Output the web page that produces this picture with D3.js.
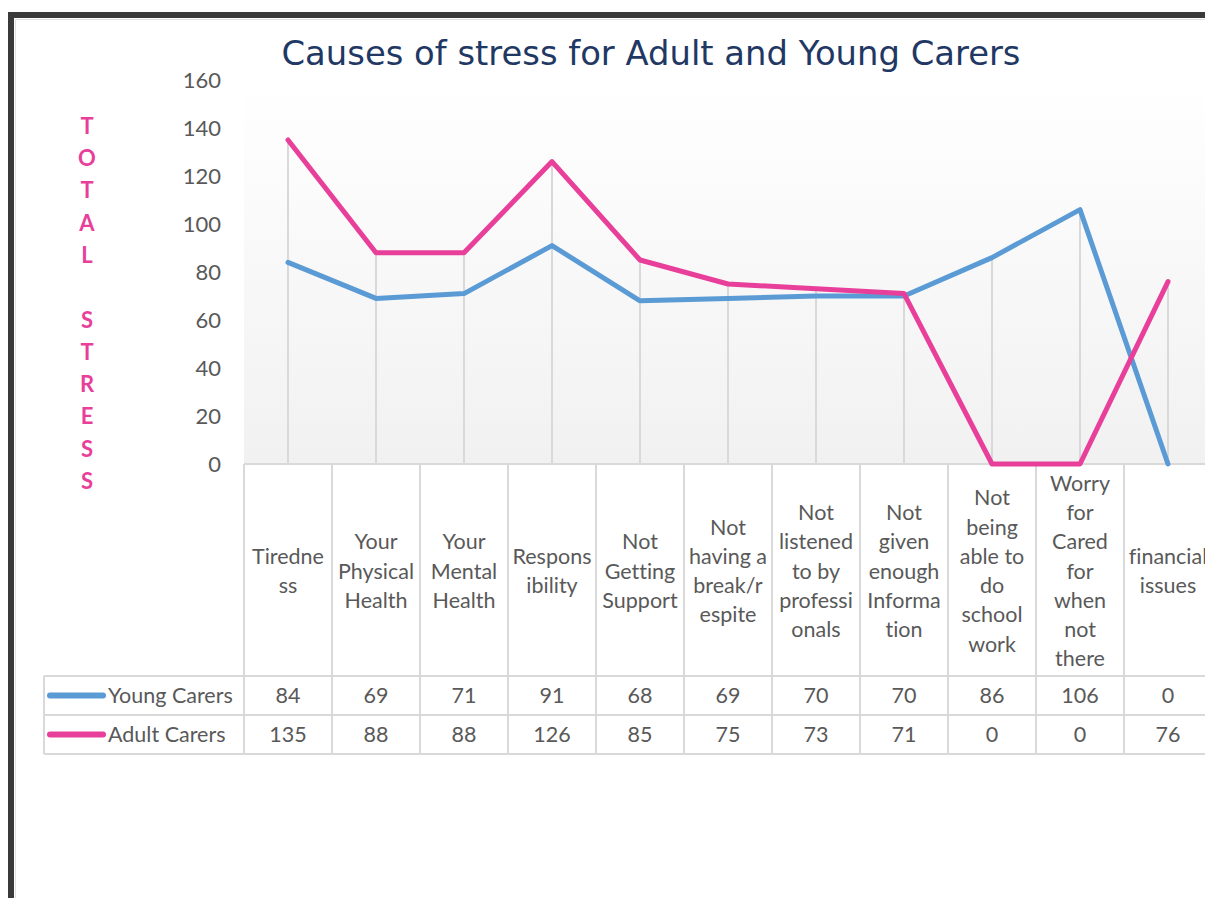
<!DOCTYPE html>
<html><head><meta charset="utf-8">
<script src="https://cdn.jsdelivr.net/npm/d3@7"></script>
<style>body{margin:0;background:#fff;overflow:hidden} text{font-variant-ligatures:none}</style></head>
<body><svg id="c" width="1205" height="898"></svg>
<script>
const title = "Causes of stress for Adult and Young Carers";
const axisTitle = "TOTAL STRESS";
const categories = ["Tiredness","Your Physical Health","Your Mental Health","Responsibility","Not Getting Support","Not having a break/respite","Not listened to by professionals","Not given enough Information","Not being able to do school work","Worry for Cared for when not there","financial issues"];
const categoryLines = [["Tiredne","ss"],["Your","Physical","Health"],["Your","Mental","Health"],["Respons","ibility"],["Not","Getting","Support"],["Not","having a","break/r","espite"],["Not","listened","to by","professi","onals"],["Not","given","enough","Informa","tion"],["Not","being","able to","do","school","work"],["Worry","for","Cared","for","when","not","there"],["financial","issues"]];
const seriesNames = ["Young Carers","Adult Carers"];
const youngCarers = [84,69,71,91,68,69,70,70,86,106,0];
const adultCarers = [135,88,88,126,85,75,73,71,0,0,76];
const yTicks = [0,20,40,60,80,100,120,140,160];

const colors = ["#5b9bd5","#e8409a"];
const series = [youngCarers, adultCarers];
const textColor = "#595959";
const gridColor = "#d9d9d9";
const font = "Lato, 'Open Sans', sans-serif";

const svg = d3.select("#c");
const defs = svg.append("defs");
const grad = defs.append("linearGradient").attr("id","bg").attr("x1",0).attr("y1",0).attr("x2",0).attr("y2",1);
grad.append("stop").attr("offset","0%").attr("stop-color","#ffffff");
grad.append("stop").attr("offset","100%").attr("stop-color","#f1f1f1");

const x = d3.scaleBand().domain(categories).range([244,1212]).padding(0);
const bw = x.bandwidth();
const cx = c => x(c) + bw/2;
const y = d3.scaleLinear().domain([0,160]).range([464,80]);

// frame
svg.append("rect").attr("x",11).attr("y",15).attr("width",1300).attr("height",1000)
  .attr("fill","none").attr("stroke","#3a3a3a").attr("stroke-width",6);
svg.append("path").attr("d","M15.5,900 V19.5 H1210").attr("fill","none").attr("stroke","#e0e0e0").attr("stroke-width",1);

// plot background
svg.append("rect").attr("x",244).attr("y",y(160)).attr("width",968).attr("height",y(0)-y(160)).attr("fill","url(#bg)");

// title
svg.append("text").attr("x",651).attr("y",65).attr("text-anchor","middle")
  .attr("font-family","Tahoma, 'DejaVu Sans', sans-serif").attr("font-size",33)
  .attr("fill","#1f3864").attr("textLength",739).attr("lengthAdjust","spacingAndGlyphs").text(title);

// axis title (vertical letters)
const letters = axisTitle.split("");
svg.append("g").selectAll("text").data(letters).join("text")
  .attr("x",87).attr("y",(d,i)=>126 + i*32.3).attr("dy","0.35em").attr("text-anchor","middle")
  .attr("font-family",font).attr("font-weight","bold").attr("font-size",22).attr("fill","#e8409a")
  .text(d=>d);

// y axis
const yAxis = svg.append("g").attr("transform","translate(221,0)")
  .call(d3.axisLeft(y).tickValues(yTicks).tickSize(0).tickPadding(0));
yAxis.select(".domain").remove();
yAxis.selectAll("text").attr("font-family",font).attr("font-size",22).attr("fill",textColor);

// drop lines
svg.append("g").selectAll("line").data(categories).join("line")
  .attr("x1",cx).attr("x2",cx)
  .attr("y1",(c,i)=>y(Math.max(youngCarers[i],adultCarers[i]))).attr("y2",y(0))
  .attr("stroke",gridColor).attr("stroke-width",2);

// table
const headerTop = y(0), headerBottom = 676, rowH = 39;
const tbl = svg.append("g").attr("stroke",gridColor).attr("stroke-width",2);
tbl.append("line").attr("x1",244).attr("x2",1212).attr("y1",headerTop).attr("y2",headerTop);
[0,1,2].forEach(k=>{
  tbl.append("line").attr("x1",44).attr("x2",1212).attr("y1",headerBottom+k*rowH).attr("y2",headerBottom+k*rowH);
});
tbl.append("line").attr("x1",44).attr("x2",44).attr("y1",headerBottom).attr("y2",headerBottom+2*rowH);
tbl.append("line").attr("x1",244).attr("x2",244).attr("y1",headerTop).attr("y2",headerBottom+2*rowH);
tbl.selectAll(".vb").data(categories).join("line").attr("class","vb")
  .attr("x1",c=>x(c)+bw).attr("x2",c=>x(c)+bw).attr("y1",headerTop).attr("y2",headerBottom+2*rowH);

// header labels
const lh = 29.3, hc = (headerTop+headerBottom)/2 + 1;
const hg = svg.append("g").attr("font-family",font).attr("font-size",21.5).attr("fill",textColor).attr("text-anchor","middle");
categories.forEach((c,i)=>{
  const lines = categoryLines[i];
  hg.append("g").selectAll("text").data(lines).join("text")
    .attr("x",cx(c)).attr("y",(d,j)=>hc + (j-(lines.length-1)/2)*lh).attr("dy","0.35em").text(d=>d);
});

// lines
const line = d3.line().x((v,i)=>cx(categories[i])).y(v=>y(v));
series.forEach((s,k)=>{
  svg.append("path").datum(s).attr("d",line).attr("fill","none").attr("stroke",colors[k])
    .attr("stroke-width",5).attr("stroke-linejoin","round").attr("stroke-linecap","round");
});

// value rows
series.forEach((s,k)=>{
  const rc = headerBottom + rowH*k + rowH/2;
  svg.append("line").attr("x1",50).attr("x2",103).attr("y1",rc).attr("y2",rc)
    .attr("stroke",colors[k]).attr("stroke-width",6).attr("stroke-linecap","round");
  svg.append("text").attr("x",108).attr("y",rc).attr("dy","0.35em").attr("font-family",font).attr("font-size",21.5)
    .attr("fill",textColor).text(seriesNames[k]);
  svg.append("g").selectAll("text").data(s).join("text")
    .attr("x",(v,i)=>cx(categories[i])).attr("y",rc).attr("dy","0.35em").attr("text-anchor","middle")
    .attr("font-family",font).attr("font-size",21.5).attr("fill",textColor).text(v=>v);
});
</script></body></html>
